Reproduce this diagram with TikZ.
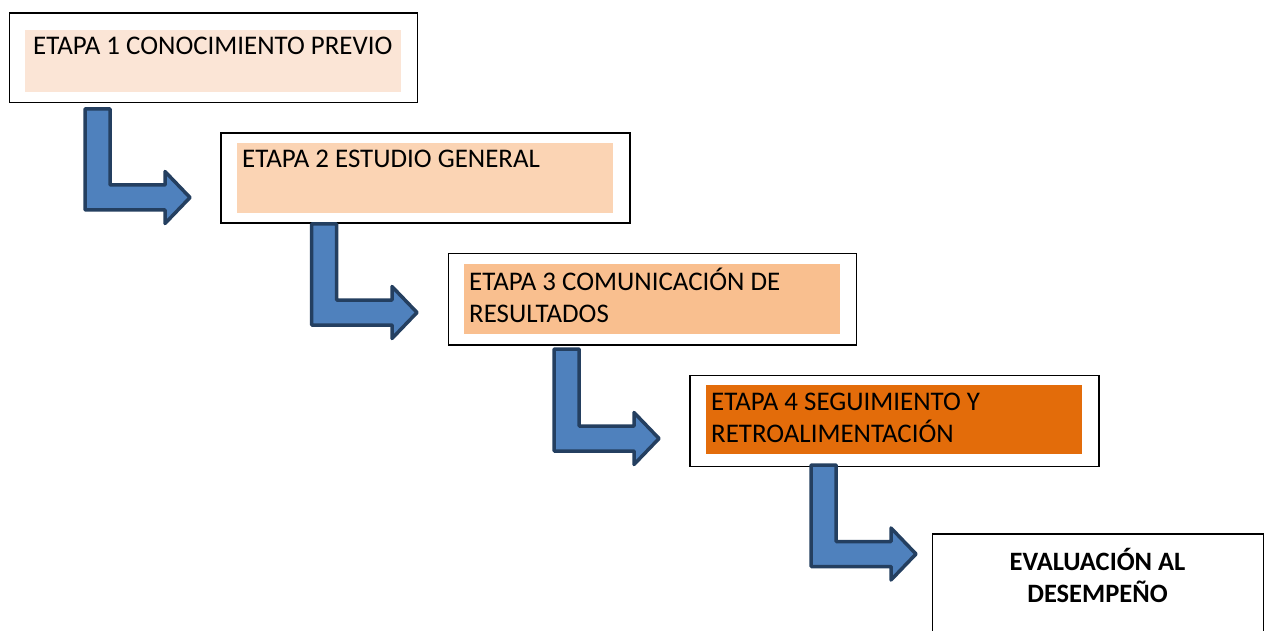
\documentclass[tikz,border=0pt]{standalone}
\usepackage{fontspec}
\setmainfont{Carlito}
\usetikzlibrary{calc}
\definecolor{fillA}{HTML}{FBE5D6}
\definecolor{fillB}{HTML}{FBD4B4}
\definecolor{fillC}{HTML}{F9BF8F}
\definecolor{fillD}{HTML}{E36C0A}
\definecolor{arrowfill}{HTML}{4F81BD}
\definecolor{arrowline}{HTML}{243F60}
\newcommand\bentarrow[2]{%
  \draw[bentstyle] let \p1=(#1), \p2=(#2) in
    (\x1-12.5pt,\y1) -- (\x1+12.5pt,\y1) -- (\x1+12.5pt,\y2+12.5pt)
    -- (\x2-25pt,\y2+12.5pt) -- (\x2-25pt,\y2+26pt) -- (\x2,\y2)
    -- (\x2-25pt,\y2-26pt) -- (\x2-25pt,\y2-12.5pt)
    -- (\x1-12.5pt,\y2-12.5pt) -- cycle;}
\begin{document}
\begin{tikzpicture}[x=1pt,y=-1pt,
  outerbox/.style={draw=black, line width=1.5pt, fill=white, anchor=north west, inner sep=0pt},
  fillbox/.style={anchor=north west, inner sep=0pt, minimum width=376pt},
  label/.style={anchor=base west, inner sep=0pt, align=left, font=\fontsize{26.9}{32}\selectfont},
  boldlabel/.style={anchor=base, inner sep=0pt, align=center, font=\fontsize{26.5}{32}\selectfont\bfseries},
  bentstyle/.style={fill=arrowfill, draw=arrowline, line width=3.5pt, line join=round}]
\useasboundingbox (0,0) rectangle (1264,631);
\clip (0,0) rectangle (1264,631);
% boxes
\node[outerbox, minimum width=408pt, minimum height=89.5pt] (b1) at (8.5,12.5) {};
\node[fillbox, fill=fillA, minimum height=62pt] (f1) at (25,30) {};
\node[label] (t1) at (33,55) {ETAPA 1 CONOCIMIENTO PREVIO};

\node[outerbox, minimum width=409pt, minimum height=90pt] (b2) at (220,132.5) {};
\node[fillbox, fill=fillB, minimum height=70pt] (f2) at (237,143) {};
\node[label] (t2) at (242,168) {ETAPA 2 ESTUDIO GENERAL};

\node[outerbox, minimum width=408pt, minimum height=91pt] (b3) at (447.5,253) {};
\node[fillbox, fill=fillC, minimum height=70pt] (f3) at (464,264) {};
\node[label] (t3) at (469,322) {ETAPA 3 COMUNICACIÓN DE\\RESULTADOS};

\node[outerbox, minimum width=409pt, minimum height=91pt] (b4) at (689,374.5) {};
\node[fillbox, fill=fillD, minimum height=69pt] (f4) at (706,385) {};
\node[label] (t4) at (711,442) {ETAPA 4 SEGUIMIENTO Y\\RETROALIMENTACIÓN};

\node[outerbox, minimum width=331pt, minimum height=120pt] (b5) at (931.5,533) {};
\node[boldlabel] (t5) at (1097.5,602) {EVALUACIÓN AL\\DESEMPEÑO};
% connectors
\coordinate (a1s) at (97.5,109);  \coordinate (a1t) at (190,197.5);
\coordinate (a2s) at (324,224);   \coordinate (a2t) at (417,312.5);
\coordinate (a3s) at (566.5,349); \coordinate (a3t) at (659,438.5);
\coordinate (a4s) at (823.5,465); \coordinate (a4t) at (916,554);
\bentarrow{a1s}{a1t}
\bentarrow{a2s}{a2t}
\bentarrow{a3s}{a3t}
\bentarrow{a4s}{a4t}
\end{tikzpicture}
\end{document}
